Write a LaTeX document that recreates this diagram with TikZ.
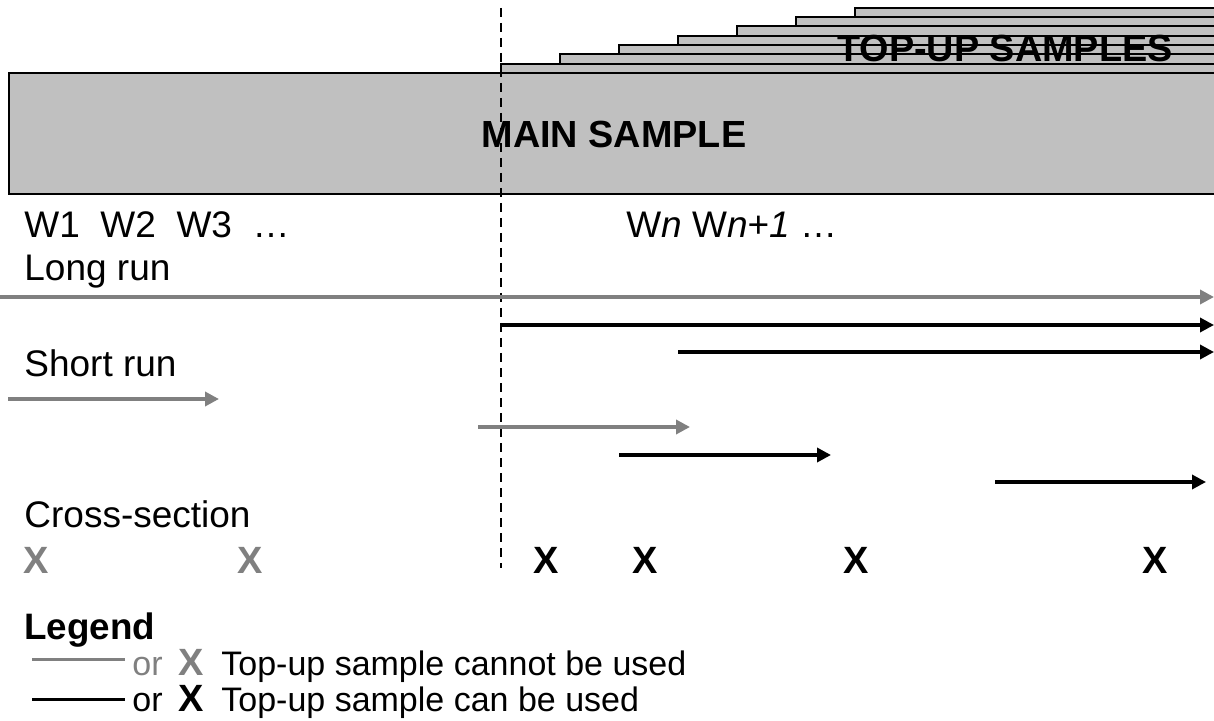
\documentclass[tikz,border=0pt]{standalone}
\usepackage{fontspec}
\setmainfont{Liberation Sans}
\usetikzlibrary{arrows.meta}
\definecolor{boxgray}{RGB}{192,192,192}
\definecolor{lightline}{RGB}{128,128,128}
\begin{document}
\begin{tikzpicture}[x=0.5pt,y=-0.5pt,
  txt/.style={inner sep=0pt, anchor=base west, font=\fontsize{18.5}{22}\selectfont},
  legtxt/.style={inner sep=0pt, anchor=base west, font=\fontsize{17}{20}\selectfont},
  bigtxt/.style={inner sep=0pt, anchor=base, font=\fontsize{18.9}{22}\selectfont\bfseries},
  xmark/.style={inner sep=0pt, anchor=base, font=\fontsize{19}{22}\selectfont\bfseries},
  grayarrow/.style={draw=lightline, line width=1.8pt, -{Triangle[length=7pt,width=7pt]}},
  blackarrow/.style={draw=black, line width=1.7pt, -{Triangle[length=7pt,width=7pt]}},
  stripline/.style={draw=black, line width=1pt},
  legline/.style={line width=1.5pt},
]
\useasboundingbox (0,0) rectangle (1214,721);
\begin{scope}
\clip (0,0) rectangle (1214,721);
% top-up strips
\foreach \i in {0,...,6} {
  \pgfmathsetmacro\xl{501+59*\i}
  \pgfmathsetmacro\yt{73-9.3*(\i+1)}
  \fill[boxgray] (\xl,\yt) rectangle (1230,\yt+9.3);
}
\node[bigtxt] (topup) at (1005,62) {TOP-UP SAMPLES};
\foreach \i in {0,...,6} {
  \pgfmathsetmacro\xl{501+59*\i}
  \pgfmathsetmacro\yt{73-9.3*(\i+1)}
  \draw[stripline] (\xl,\yt+9.3) -- (\xl,\yt) -- (1230,\yt);
}
% main sample
\draw[fill=boxgray, line width=1pt] (9,73) rectangle (1230,194);
\node[bigtxt] (main) at (614,148) {MAIN SAMPLE};
% dashed line
\coordinate (dtop) at (501,8);
\coordinate (dbot) at (501,568);
\draw[dash pattern=on 4.5pt off 3pt, line width=0.7pt] (dtop) -- (dbot);
% labels
\node[txt] (w123) at (24,238) {W1\ \ W2\ \ W3\ \ …};
\node[txt] (wn) at (626,238) {W\textit{n} W\textit{n+1} …};
\node[txt] (long) at (24,281) {Long run};
\node[txt] (short) at (24,377) {Short run};
\node[txt] (cross) at (24,527) {Cross-section};
% long-run arrows
\coordinate (a1s) at (0,297);   \coordinate (a1e) at (1214,297);
\coordinate (a2s) at (501,325); \coordinate (a2e) at (1214,325);
\coordinate (a3s) at (678,352); \coordinate (a3e) at (1214,352);
\draw[grayarrow] (a1s) -- (a1e);
\draw[blackarrow] (a2s) -- (a2e);
\draw[blackarrow] (a3s) -- (a3e);
% short-run arrows
\coordinate (b1s) at (8,399);   \coordinate (b1e) at (219,399);
\coordinate (b2s) at (478,427); \coordinate (b2e) at (690,427);
\coordinate (b3s) at (619,455); \coordinate (b3e) at (831,455);
\coordinate (b4s) at (995,482); \coordinate (b4e) at (1206,482);
\draw[grayarrow] (b1s) -- (b1e);
\draw[grayarrow] (b2s) -- (b2e);
\draw[blackarrow] (b3s) -- (b3e);
\draw[blackarrow] (b4s) -- (b4e);
% cross-section marks
\node[xmark, text=lightline] (x1) at (36,573) {X};
\node[xmark, text=lightline] (x2) at (250,573) {X};
\node[xmark] (x3) at (546,573) {X};
\node[xmark] (x4) at (645,573) {X};
\node[xmark] (x5) at (856,573) {X};
\node[xmark] (x6) at (1155,573) {X};
% legend
\node[txt, font=\fontsize{18.4}{22}\selectfont\bfseries] (legend) at (24,639) {Legend};
\coordinate (l1s) at (32,659); \coordinate (l1e) at (125,659);
\coordinate (l2s) at (32,699); \coordinate (l2e) at (125,699);
\draw[legline, lightline] (l1s) -- (l1e);
\draw[legline, black] (l2s) -- (l2e);
\node[legtxt, text=lightline] (or1) at (132,675) {or};
\node[xmark, text=lightline] (lx1) at (191,675) {X};
\node[legtxt] (t1) at (221,675) {Top-up sample cannot be used};
\node[legtxt] (or2) at (132,711) {or};
\node[xmark] (lx2) at (191,711) {X};
\node[legtxt] (t2) at (221,711) {Top-up sample can be used};
\end{scope}
\end{tikzpicture}
\end{document}
